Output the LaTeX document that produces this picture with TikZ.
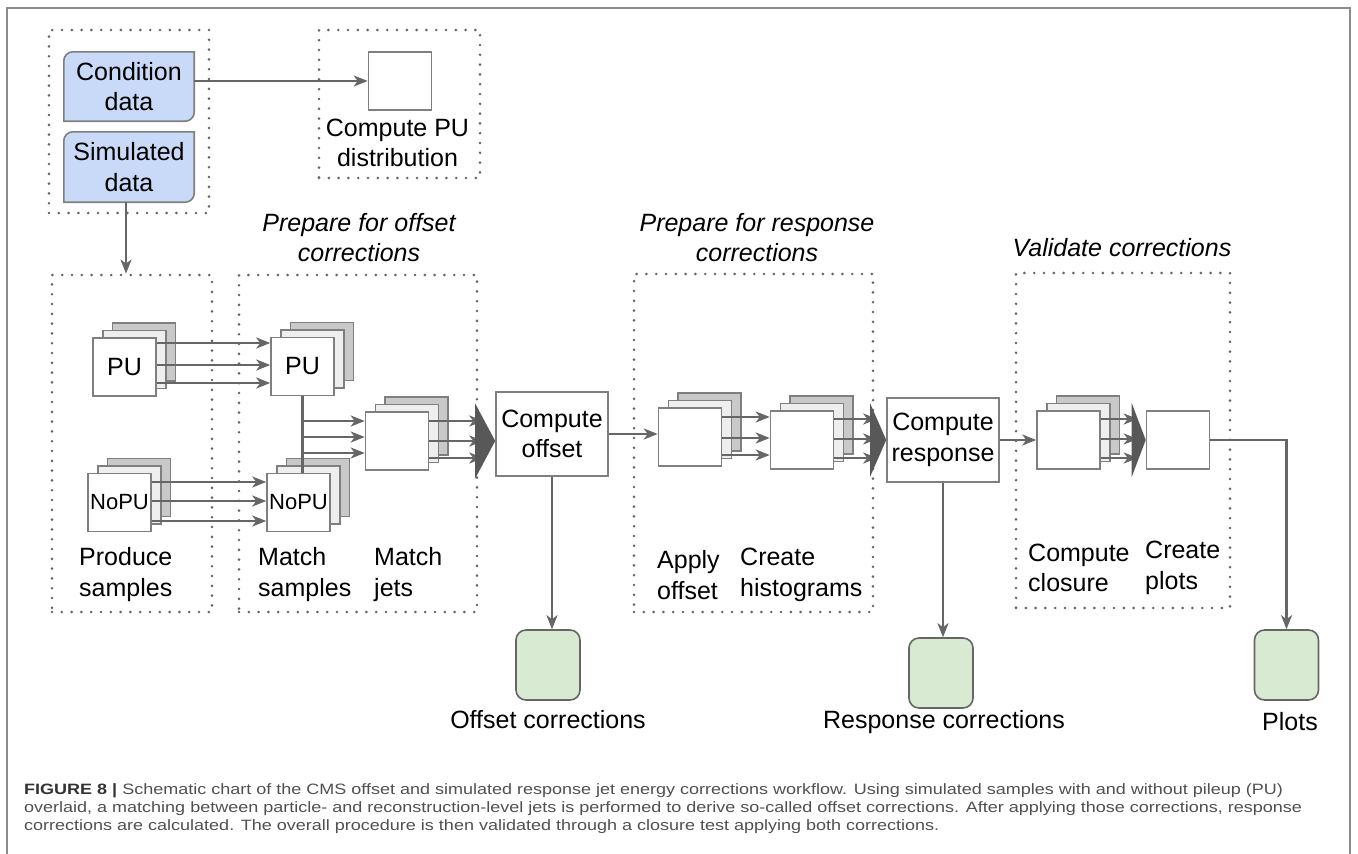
\documentclass[tikz,border=0pt]{standalone}
\usepackage{fontspec}
\setmainfont{Liberation Sans}
\newfontfamily\capfont[FakeStretch=1.2]{Liberation Sans}
\usetikzlibrary{arrows.meta,calc,backgrounds}

\definecolor{linegray}{HTML}{666666}
\definecolor{boxgray}{HTML}{7F7F7F}
\definecolor{midgray}{HTML}{EEEEEE}
\definecolor{backgray}{HTML}{C9C9C9}
\definecolor{dotgray}{HTML}{666666}
\definecolor{tipgray}{HTML}{585858}
\definecolor{datablue}{HTML}{C9DAF8}
\definecolor{resgreen}{HTML}{D9EAD3}
\definecolor{framegray}{HTML}{8C8C8C}
\definecolor{captext}{HTML}{505050}

\newcommand\lbl{\fontsize{25}{30.5}\selectfont}
\newcommand\caplbl{\capfont\fontsize{15}{18.3}\selectfont}

% a stack of three sheets: back, middle, front (front carries the name)
\newcommand\jetstack[4]{%
  \node[layerback] (#1b) at (#2+19.5,#3-15) {};
  \node[layermid]  (#1m) at (#2+10,#3-7.5) {};
  \node[box]       (#1)  at (#2,#3) {#4};
}

\tikzset{
  box/.style={draw=boxgray, line width=1.6pt, fill=white, minimum width=63pt,
              minimum height=58pt, inner sep=0pt, font=\lbl},
  layermid/.style={box, fill=midgray},
  layerback/.style={box, fill=backgray},
  bigbox/.style={box, minimum width=112pt, minimum height=84pt, align=center},
  datanode/.style={minimum width=130pt, minimum height=69pt, inner sep=0pt,
                   align=center, font=\lbl},
  datashape/.style={draw=boxgray, line width=1.6pt, fill=datablue},
  result/.style={draw=linegray, line width=1.6pt, fill=resgreen, rounded corners=10pt,
                 minimum width=64pt, minimum height=70pt, inner sep=0pt},
  group/.style={draw=dotgray, line width=2.9pt, dash pattern=on 0pt off 9.8pt,
                line cap=round, inner sep=0pt},
  arr/.style={draw=linegray, line width=2.4pt,
              -{Stealth[length=14pt,width=11pt,inset=4pt]}},
  link/.style={draw=linegray, line width=2.4pt},
  merge/.style={fill=tipgray},
  label/.style={font=\lbl, align=left, inner sep=0pt, anchor=west},
  title/.style={font=\lbl\itshape, align=center, inner sep=0pt},
  outlabel/.style={font=\lbl, inner sep=0pt},
  frame/.style={draw=framegray, line width=2pt},
}

\begin{document}
\begin{tikzpicture}[x=1pt,y=-1pt]
\useasboundingbox (0,0) rectangle (1358,854);

% figure frame
\draw[frame] (7,854) -- (7,8) -- (1350,8) -- (1350,854);

% dotted groups
\node[group, minimum width=160pt, minimum height=183pt] (ginput) at (129,121.5) {};
\node[group, minimum width=161pt, minimum height=148pt] (gpu) at (399.5,104) {};
\node[group, minimum width=160pt, minimum height=337pt] (gprod) at (132,443.5) {};
\node[group, minimum width=238pt, minimum height=337pt] (gmatch) at (358,443.5) {};
\node[group, minimum width=239pt, minimum height=338pt] (gapply) at (753.5,443) {};
\node[group, minimum width=214pt, minimum height=335pt] (gvalid) at (1123,440.5) {};

% input data
\node[datanode] (cond) at (129,86.5) {Condition\\data};
\node[datanode, minimum height=70pt] (sim) at (129,167) {Simulated\\data};
\begin{scope}[on background layer]
  \foreach \d in {cond,sim}{
    \draw[datashape] (\d.south west) -- ([yshift=-9pt]\d.north west)
      arc(180:90:9pt) -- (\d.north east) -- ([yshift=9pt]\d.south east)
      arc(0:-90:9pt) -- cycle;
  }
\end{scope}

% pileup distribution
\node[box] (pud) at (400,81) {};
\node[outlabel, align=center] (pudtxt) at (397.5,143) {Compute PU\\distribution};

% group titles
\node[title] (toffset) at (359,237.5) {Prepare for offset\\corrections};
\node[title] (tresp) at (757,237.5) {Prepare for response\\corrections};
\node[title] (tvalid) at (1122,248) {Validate corrections};

% sample production and matching
\jetstack{pua}{124.5}{367}{PU}
\jetstack{nopua}{119.5}{502.5}{\fontsize{22}{26}\selectfont NoPU}
\jetstack{pub}{302.5}{366.5}{PU}
\jetstack{nopub}{298.5}{502.5}{\fontsize{22}{26}\selectfont NoPU}
\jetstack{mj}{397}{441}{}

% corrections chain
\node[bigbox] (co) at (552,434) {Compute\\offset};
\jetstack{ao}{690}{437}{}
\jetstack{ch}{802}{440}{}
\node[bigbox] (cr) at (943,440) {Compute\\response};
\jetstack{cc}{1068.5}{440}{}
\node[box] (cp) at (1178,440) {};

% outputs
\node[result] (offc) at (548,665) {};
\node[result] (respc) at (941,673) {};
\node[result] (plots) at (1286.5,665) {};
\node[outlabel] (offctxt) at (548,720) {Offset corrections};
\node[outlabel] (respctxt) at (944,722) {Response corrections};
\node[outlabel] (plotstxt) at (1290,722) {Plots};

% step labels
\node[label] (lprod) at (79,574.5) {Produce\\samples};
\node[label] (lms) at (258,574.5) {Match\\samples};
\node[label] (lmj) at (374,574.5) {Match\\jets};
\node[label] (lao) at (657,575) {Apply\\offset};
\node[label] (lch) at (740,575) {Create\\histograms};
\node[label] (lcc) at (1028,568) {Compute\\closure};
\node[label] (lcp) at (1145,568) {Create\\plots};

% connectors
\draw[arr] (pud.west -| cond.east) -- (pud.west);
\draw[arr] ([xshift=-3pt]sim.south) -- ([xshift=-3pt]sim.south |- gprod.north);

\foreach \s in {24,2,-16}
  \draw[arr] ([yshift=\s pt]pua.east) -- ([yshift=\s pt]pua.east -| pub.west);
\foreach \s in {20.5,1.5,-18.5}
  \draw[arr] ([yshift=\s pt]nopua.east) -- ([yshift=\s pt]nopua.east -| nopub.west);

\draw[link] (pub.south) -- (pub.south |- nopub.north);
\foreach \s in {20,4,-12}
  \draw[arr] ([yshift=\s pt]mj.west -| pub.south) -- ([yshift=\s pt]mj.west);

\foreach \s in {20,0,-17}
  \draw[arr] ([yshift=\s pt]mj.east) -- ([yshift=\s pt,xshift=-12pt]mj.east -| co.west);
\fill[merge] ([xshift=-20pt,yshift=37.5pt]co.west |- mj.east) -- (co.west |- mj.east)
  -- ([xshift=-20pt,yshift=-37.5pt]co.west |- mj.east) -- cycle;

\draw[arr] (co.east) -- (co.east -| ao.west);
\foreach \s in {20,-1,-18}
  \draw[arr] ([yshift=\s pt]ao.east) -- ([yshift=\s pt]ao.east -| ch.west);
\foreach \s in {21,1,-18}
  \draw[arr] ([yshift=\s pt]ch.east) -- ([yshift=\s pt,xshift=-9pt]ch.east -| cr.west);
\fill[merge] ([xshift=-16pt,yshift=36.5pt]cr.west) -- (cr.west)
  -- ([xshift=-16pt,yshift=-36.5pt]cr.west) -- cycle;

\draw[arr] (cr.east) -- (cr.east -| cc.west);
\foreach \s in {21,1,-18}
  \draw[arr] ([yshift=\s pt]cc.east) -- ([yshift=\s pt,xshift=-8pt]cc.east -| cp.west);
\fill[merge] ([xshift=-14pt,yshift=37pt]cp.west) -- (cp.west)
  -- ([xshift=-14pt,yshift=-37pt]cp.west) -- cycle;

\draw[arr] (cp.east) -| (plots.north);
\draw[arr] (co.south) -- (co.south |- offc.north);
\draw[arr] (cr.south) -- (cr.south |- respc.north);

% caption
\node[anchor=north west, align=left, inner sep=0pt, font=\caplbl, text=captext] (cap) at (24,783)
  {{\color{black!80}\bfseries FIGURE 8 |} Schematic chart of the CMS offset and simulated response jet energy corrections workflow. Using simulated samples with and without pileup (PU)\\
   overlaid, a matching between particle- and reconstruction-level jets is performed to derive so-called offset corrections. After applying those corrections, response\\
   corrections are calculated. The overall procedure is then validated through a closure test applying both corrections.};
\end{tikzpicture}
\end{document}
